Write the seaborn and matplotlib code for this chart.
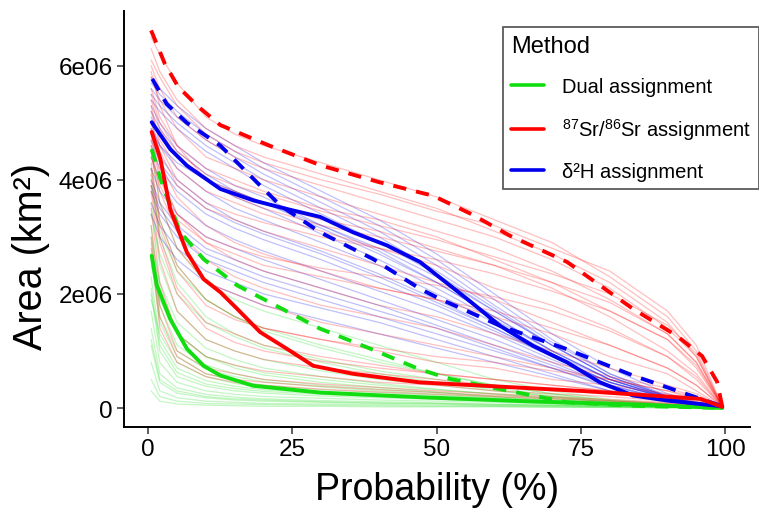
import numpy as np
import pandas as pd
import matplotlib
matplotlib.use("Agg")
import matplotlib.pyplot as plt
import seaborn as sns
from matplotlib.lines import Line2D

# ---------------- data (areas in millions of km²) ----------------
grid_prob = [0.5, 2, 5, 10, 15, 20, 30, 40, 50, 60, 70, 80, 90, 95, 99.5]

sr_runs = [
    [6.5, 6.2, 5.7, 5.1, 4.8, 4.6, 4.3, 4.0, 3.7, 3.3, 2.9, 2.3, 1.6, 1.0, 0.02],
    [6.3, 5.9, 5.4, 4.9, 4.6, 4.4, 4.1, 3.8, 3.5, 3.1, 2.7, 2.2, 1.5, 0.9, 0.02],
    [6.1, 5.8, 5.3, 4.8, 4.5, 4.3, 4.0, 3.75, 3.45, 3.2, 2.8, 2.4, 1.7, 1.1, 0.02],
    [6.0, 5.6, 5.1, 4.7, 4.4, 4.2, 3.9, 3.6, 3.3, 3.0, 2.6, 2.1, 1.4, 0.9, 0.02],
    [5.9, 5.3, 4.6, 4.0, 3.7, 3.5, 3.2, 3.0, 2.75, 2.5, 2.2, 1.85, 1.3, 0.8, 0.02],
    [5.8, 5.4, 4.9, 4.4, 4.2, 4.0, 3.7, 3.4, 3.1, 2.8, 2.4, 1.9, 1.3, 0.8, 0.02],
    [5.6, 5.1, 4.6, 4.2, 4.0, 3.8, 3.5, 3.3, 3.0, 2.6, 2.2, 1.7, 1.2, 0.7, 0.02],
    [5.5, 5.0, 4.5, 4.1, 3.9, 3.75, 3.45, 3.2, 2.95, 2.65, 2.35, 2.0, 1.45, 0.95, 0.02],
    [5.4, 4.9, 4.4, 4.0, 3.8, 3.6, 3.3, 3.1, 2.8, 2.5, 2.1, 1.6, 1.0, 0.6, 0.02],
    [5.3, 4.6, 4.0, 3.6, 3.4, 3.25, 3.0, 2.8, 2.6, 2.35, 2.05, 1.7, 1.2, 0.75, 0.02],
    [5.2, 4.7, 4.2, 3.8, 3.6, 3.4, 3.1, 2.8, 2.5, 2.1, 1.8, 1.4, 0.9, 0.5, 0.02],
    [5.0, 4.5, 3.9, 3.5, 3.3, 3.1, 2.8, 2.5, 2.2, 1.9, 1.5, 1.1, 0.7, 0.4, 0.02],
    [4.9, 4.3, 3.7, 3.2, 2.9, 2.7, 2.4, 2.1, 1.9, 1.6, 1.3, 0.9, 0.6, 0.3, 0.02],
    [4.8, 4.1, 3.4, 2.9, 2.6, 2.4, 2.1, 1.8, 1.6, 1.3, 1.0, 0.7, 0.4, 0.25, 0.02],
    [4.7, 4.0, 3.4, 3.0, 2.8, 2.65, 2.45, 2.3, 2.15, 1.95, 1.7, 1.35, 0.9, 0.55, 0.02],
    [4.6, 3.8, 3.1, 2.6, 2.3, 2.1, 1.8, 1.6, 1.4, 1.1, 0.8, 0.55, 0.35, 0.2, 0.02],
    [4.5, 3.6, 2.8, 2.2, 2.0, 1.8, 1.5, 1.3, 1.1, 0.9, 0.7, 0.5, 0.3, 0.2, 0.02],
    [4.4, 3.9, 3.3, 2.9, 2.7, 2.5, 2.3, 2.1, 1.9, 1.7, 1.4, 1.1, 0.7, 0.4, 0.02],
    [4.3, 3.3, 2.5, 1.9, 1.6, 1.4, 1.2, 1.0, 0.8, 0.7, 0.5, 0.4, 0.25, 0.15, 0.02],
    [4.2, 3.2, 2.4, 1.8, 1.55, 1.4, 1.2, 1.05, 0.9, 0.8, 0.65, 0.5, 0.3, 0.15, 0.02],
    [4.1, 3.0, 2.1, 1.5, 1.3, 1.1, 0.9, 0.75, 0.6, 0.5, 0.4, 0.3, 0.2, 0.1, 0.02],
    [3.9, 2.9, 2.0, 1.4, 1.15, 1.0, 0.82, 0.7, 0.6, 0.5, 0.4, 0.3, 0.2, 0.12, 0.02],
    [3.8, 2.6, 1.7, 1.2, 1.0, 0.85, 0.7, 0.6, 0.5, 0.4, 0.3, 0.25, 0.15, 0.1, 0.02],
    [3.5, 2.2, 1.3, 0.9, 0.75, 0.65, 0.55, 0.45, 0.4, 0.3, 0.25, 0.2, 0.12, 0.08, 0.02],
    [3.2, 1.8, 1.0, 0.7, 0.6, 0.5, 0.42, 0.36, 0.3, 0.25, 0.2, 0.15, 0.1, 0.06, 0.02],
    [3.0, 1.6, 0.9, 0.6, 0.5, 0.45, 0.38, 0.32, 0.27, 0.22, 0.18, 0.13, 0.08, 0.05, 0.02],
    [2.8, 1.4, 0.8, 0.55, 0.45, 0.4, 0.33, 0.28, 0.24, 0.2, 0.16, 0.12, 0.08, 0.05, 0.02],
]

h_runs = [
    [5.8, 5.6, 5.3, 4.9, 4.6, 4.3, 3.8, 3.3, 2.7, 2.0, 1.3, 0.7, 0.25, 0.1, 0.02],
    [5.7, 5.5, 5.2, 4.8, 4.5, 4.2, 3.7, 3.2, 2.6, 1.9, 1.2, 0.6, 0.22, 0.09, 0.02],
    [5.6, 5.4, 5.1, 4.7, 4.4, 4.1, 3.6, 3.1, 2.5, 1.8, 1.15, 0.6, 0.2, 0.08, 0.02],
    [5.5, 5.3, 5.0, 4.6, 4.3, 4.0, 3.5, 3.0, 2.4, 1.75, 1.1, 0.55, 0.2, 0.08, 0.02],
    [5.4, 5.2, 4.9, 4.5, 4.2, 3.9, 3.4, 2.9, 2.35, 1.7, 1.1, 0.55, 0.2, 0.08, 0.02],
    [5.3, 5.0, 4.6, 4.2, 3.9, 3.7, 3.2, 2.75, 2.2, 1.6, 1.0, 0.5, 0.18, 0.07, 0.02],
    [5.2, 4.9, 4.5, 4.1, 3.8, 3.6, 3.15, 2.7, 2.2, 1.6, 1.0, 0.5, 0.18, 0.07, 0.02],
    [5.1, 4.8, 4.4, 4.0, 3.7, 3.5, 3.05, 2.6, 2.1, 1.55, 1.0, 0.5, 0.18, 0.07, 0.02],
    [5.0, 4.6, 4.2, 3.8, 3.5, 3.3, 2.9, 2.5, 2.0, 1.5, 0.95, 0.5, 0.2, 0.08, 0.02],
    [4.9, 4.6, 4.3, 4.0, 3.8, 3.6, 3.2, 2.8, 2.3, 1.7, 1.1, 0.55, 0.2, 0.08, 0.02],
    [4.8, 4.4, 4.0, 3.6, 3.3, 3.1, 2.75, 2.35, 1.9, 1.4, 0.9, 0.45, 0.18, 0.07, 0.02],
    [4.7, 4.3, 3.9, 3.5, 3.25, 3.05, 2.7, 2.3, 1.85, 1.4, 0.9, 0.45, 0.17, 0.07, 0.02],
    [4.6, 4.2, 3.8, 3.4, 3.15, 2.95, 2.6, 2.2, 1.8, 1.35, 0.9, 0.45, 0.17, 0.07, 0.02],
    [4.4, 4.0, 3.6, 3.2, 2.95, 2.75, 2.4, 2.05, 1.7, 1.3, 0.85, 0.45, 0.17, 0.07, 0.02],
    [4.2, 3.8, 3.4, 3.0, 2.8, 2.6, 2.25, 1.9, 1.55, 1.2, 0.8, 0.4, 0.15, 0.06, 0.02],
    [4.0, 3.6, 3.2, 2.8, 2.6, 2.4, 2.1, 1.8, 1.45, 1.1, 0.75, 0.4, 0.15, 0.06, 0.02],
    [3.9, 3.5, 3.1, 2.7, 2.5, 2.3, 2.0, 1.7, 1.4, 1.05, 0.7, 0.38, 0.14, 0.05, 0.02],
    [3.8, 3.4, 3.0, 2.6, 2.4, 2.2, 1.9, 1.6, 1.3, 1.0, 0.7, 0.35, 0.13, 0.05, 0.02],
    [3.6, 3.2, 2.8, 2.4, 2.2, 2.0, 1.75, 1.5, 1.2, 0.9, 0.6, 0.3, 0.12, 0.05, 0.02],
    [3.4, 3.0, 2.6, 2.2, 2.0, 1.8, 1.55, 1.3, 1.05, 0.8, 0.55, 0.3, 0.12, 0.05, 0.02],
]

dual_runs = [
    [4.5, 3.6, 2.8, 2.2, 1.9, 1.7, 1.4, 1.1, 0.8, 0.5, 0.3, 0.15, 0.07, 0.04, 0.0],
    [4.2, 3.3, 2.5, 1.9, 1.6, 1.35, 1.05, 0.8, 0.6, 0.4, 0.25, 0.13, 0.06, 0.03, 0.0],
    [4.0, 3.0, 2.2, 1.6, 1.3, 1.1, 0.85, 0.65, 0.5, 0.35, 0.22, 0.12, 0.05, 0.03, 0.0],
    [3.9, 3.1, 2.4, 1.9, 1.6, 1.4, 1.1, 0.85, 0.6, 0.4, 0.25, 0.13, 0.06, 0.03, 0.0],
    [3.6, 2.5, 1.7, 1.2, 1.0, 0.85, 0.65, 0.5, 0.4, 0.3, 0.2, 0.1, 0.05, 0.03, 0.0],
    [3.4, 2.7, 2.0, 1.5, 1.25, 1.05, 0.8, 0.6, 0.45, 0.32, 0.2, 0.1, 0.05, 0.02, 0.0],
    [3.2, 2.1, 1.3, 0.9, 0.75, 0.62, 0.5, 0.4, 0.32, 0.25, 0.17, 0.1, 0.05, 0.02, 0.0],
    [3.0, 2.2, 1.5, 1.05, 0.85, 0.7, 0.55, 0.43, 0.33, 0.24, 0.16, 0.09, 0.04, 0.02, 0.0],
    [2.9, 1.8, 1.1, 0.75, 0.6, 0.5, 0.4, 0.33, 0.27, 0.2, 0.14, 0.08, 0.04, 0.02, 0.0],
    [2.7, 1.6, 1.0, 0.68, 0.55, 0.46, 0.37, 0.3, 0.24, 0.18, 0.12, 0.07, 0.03, 0.02, 0.0],
    [2.6, 1.5, 0.9, 0.6, 0.48, 0.4, 0.32, 0.27, 0.22, 0.17, 0.12, 0.07, 0.03, 0.02, 0.0],
    [2.5, 1.9, 1.3, 0.9, 0.7, 0.58, 0.45, 0.36, 0.28, 0.2, 0.13, 0.07, 0.03, 0.02, 0.0],
    [2.3, 1.2, 0.7, 0.48, 0.38, 0.32, 0.26, 0.22, 0.18, 0.14, 0.1, 0.06, 0.03, 0.02, 0.0],
    [2.1, 1.1, 0.62, 0.42, 0.34, 0.29, 0.24, 0.2, 0.16, 0.13, 0.09, 0.05, 0.03, 0.01, 0.0],
    [2.0, 1.0, 0.55, 0.38, 0.3, 0.26, 0.21, 0.18, 0.15, 0.12, 0.08, 0.05, 0.03, 0.01, 0.0],
    [1.9, 1.3, 0.8, 0.55, 0.43, 0.36, 0.29, 0.23, 0.18, 0.14, 0.1, 0.06, 0.03, 0.01, 0.0],
    [1.7, 0.8, 0.45, 0.3, 0.24, 0.2, 0.17, 0.14, 0.12, 0.1, 0.07, 0.04, 0.02, 0.01, 0.0],
    [1.4, 0.6, 0.35, 0.24, 0.19, 0.16, 0.13, 0.11, 0.09, 0.07, 0.05, 0.03, 0.02, 0.01, 0.0],
    [1.2, 0.5, 0.3, 0.2, 0.16, 0.14, 0.11, 0.09, 0.08, 0.06, 0.05, 0.03, 0.02, 0.01, 0.0],
    [1.1, 0.45, 0.26, 0.18, 0.14, 0.12, 0.1, 0.08, 0.07, 0.05, 0.04, 0.03, 0.02, 0.01, 0.0],
    [0.8, 0.3, 0.18, 0.12, 0.1, 0.08, 0.07, 0.06, 0.05, 0.04, 0.03, 0.02, 0.01, 0.01, 0.0],
    [0.5, 0.2, 0.12, 0.08, 0.07, 0.06, 0.05, 0.04, 0.03, 0.03, 0.02, 0.01, 0.01, 0.0, 0.0],
    [0.3, 0.12, 0.07, 0.05, 0.04, 0.03, 0.03, 0.02, 0.02, 0.02, 0.01, 0.01, 0.0, 0.0, 0.0],
]

# summary curves
sr_upper_x = [0.5, 2.9, 5.2, 8.7, 12.5, 21, 30, 40, 49.4, 56, 62.7, 72.6, 84, 91.7, 96, 98.6, 99.5]
sr_upper_y = [6.62, 6.03, 5.63, 5.28, 4.96, 4.6, 4.25, 3.96, 3.72, 3.4, 3.02, 2.56, 1.74, 1.26, 0.91, 0.46, 0.02]
sr_mid_x = [0.6, 2.1, 3.8, 6.7, 9.6, 12.5, 15.4, 19.4, 24, 28.6, 35.5, 47, 60, 75, 90, 95.7, 99.5]
sr_mid_y = [4.84, 4.37, 3.49, 2.73, 2.26, 2.03, 1.74, 1.33, 1.04, 0.74, 0.60, 0.45, 0.38, 0.30, 0.20, 0.16, 0.02]

h_upper_x = [0.7, 3.2, 6.7, 12.5, 18.8, 22.9, 29.8, 39, 47.1, 50.6, 61, 72.6, 84, 94, 99.5]
h_upper_y = [5.77, 5.33, 5.0, 4.6, 3.96, 3.55, 3.08, 2.61, 2.09, 1.91, 1.44, 1.03, 0.57, 0.22, 0.03]
h_mid_x = [0.6, 3.8, 6.7, 12.5, 18.2, 24, 29.8, 35.5, 41.4, 47.1, 55.3, 61, 66.7, 72.6, 78.3, 84, 90, 99.5]
h_mid_y = [5.01, 4.54, 4.25, 3.84, 3.64, 3.49, 3.35, 3.08, 2.85, 2.56, 1.91, 1.44, 1.09, 0.80, 0.45, 0.22, 0.13, 0.03]

dual_upper_x = [0.6, 2.1, 5.5, 9.6, 15.4, 21.1, 29.8, 38.5, 47, 52.3, 61, 72.6, 84, 99.5]
dual_upper_y = [4.54, 4.02, 3.09, 2.61, 2.15, 1.85, 1.39, 1.04, 0.68, 0.51, 0.33, 0.10, 0.04, 0.0]
dual_mid_x = [0.6, 1.5, 3.8, 6.7, 9.6, 12.5, 18.2, 29.8, 47, 65, 85, 99.5]
dual_mid_y = [2.67, 2.15, 1.56, 1.04, 0.74, 0.57, 0.39, 0.27, 0.19, 0.12, 0.06, 0.0]

methods = ["Dual assignment", "87Sr/86Sr assignment", "d2H assignment"]
legend_labels = ["Dual assignment",
                 r"$\mathregular{^{87}Sr/^{86}Sr}$ assignment",
                 "δ²H assignment"]
colors = {"Dual assignment": "#11DD11",
          "87Sr/86Sr assignment": "#FF0000",
          "d2H assignment": "#0000EE"}

# ---------------- build frames ----------------
def runs_frame(runs, method):
    rows = []
    for i, vals in enumerate(runs):
        for p, v in zip(grid_prob, vals):
            rows.append({"prob": p, "area": v * 1e6, "method": method, "run": f"{method}_{i}"})
    return pd.DataFrame(rows)

thin = pd.concat([runs_frame(dual_runs, methods[0]),
                  runs_frame(h_runs, methods[2]),
                  runs_frame(sr_runs, methods[1])], ignore_index=True)

# ---------------- style ----------------
sns.set_style("ticks")
plt.rcParams["font.family"] = ["Liberation Sans", "DejaVu Sans"]
plt.rcParams["mathtext.fontset"] = "custom"
plt.rcParams["mathtext.rm"] = "Liberation Sans"
plt.rcParams["text.color"] = "black"
plt.rcParams["axes.labelcolor"] = "black"

fig = plt.figure(figsize=(7.59, 5.10), dpi=100)
ax = fig.add_axes([124 / 759, 1 - 428 / 510, (750 - 124) / 759, (428 - 12) / 510])

for m in [methods[0], methods[2], methods[1]]:
    sns.lineplot(data=thin[thin["method"] == m], x="prob", y="area", units="run",
                 estimator=None, color=colors[m], lw=0.9, alpha=0.25,
                 legend=False, sort=False, ax=ax)

summary = [
    (dual_mid_x, dual_mid_y, methods[0], False),
    (dual_upper_x, dual_upper_y, methods[0], True),
    (h_mid_x, h_mid_y, methods[2], False),
    (h_upper_x, h_upper_y, methods[2], True),
    (sr_mid_x, sr_mid_y, methods[1], False),
    (sr_upper_x, sr_upper_y, methods[1], True),
]
for xs, ys, m, dashed in summary:
    sns.lineplot(x=xs, y=np.array(ys) * 1e6, color=colors[m], lw=2.8,
                 sort=False, estimator=None, ax=ax)
    if dashed:
        ax.lines[-1].set_dashes([3.4, 2.6])

ax.set_xlim(-4.2, 104.3)
ax.set_ylim(-0.333e6, 6.96e6)
ax.set_xticks([0, 25, 50, 75, 100])
ax.set_xticklabels(["0", "25", "50", "75", "100"])
ax.set_yticks([0, 2e6, 4e6, 6e6])
ax.set_yticklabels(["0", "2e06", "4e06", "6e06"])
ax.tick_params(axis="both", labelsize=17.5, length=5, width=1.1, color="#333333",
               labelcolor="black", pad=3)
for s in ["top", "right"]:
    ax.spines[s].set_visible(False)
for s in ["left", "bottom"]:
    ax.spines[s].set_linewidth(1.4)
    ax.spines[s].set_color("black")

ax.set_xlabel("Probability (%)", fontsize=27, labelpad=8)
ax.set_ylabel("Area (km²)", fontsize=28.5)
ax.yaxis.set_label_coords(-0.118, (428 - 256) / 416)

handles = [Line2D([0], [0], color=colors[m], lw=2.6) for m in methods]
leg = ax.legend(handles, legend_labels, title="Method", loc="upper left",
                bbox_to_anchor=((503 - 124) / 626, (428 - 28) / 416), borderaxespad=0,
                fontsize=14.5, title_fontsize=17,
                frameon=True, fancybox=False, edgecolor="#333333",
                handlelength=1.6, handletextpad=0.9, labelspacing=0.98,
                borderpad=0.42, alignment="left")
leg.get_frame().set_linewidth(1.3)
leg.set_clip_on(False)

fig.savefig("out.png", dpi=100)
